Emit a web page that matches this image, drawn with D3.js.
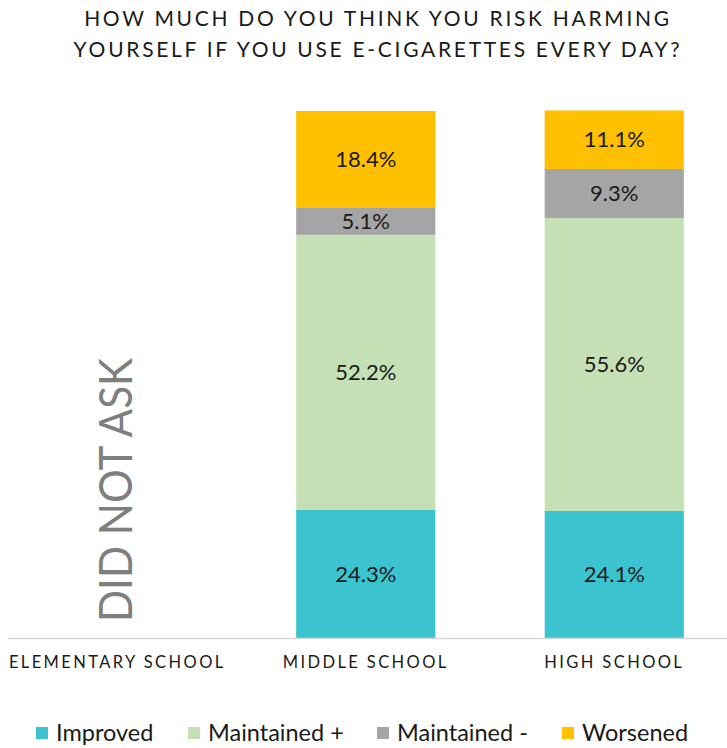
<!DOCTYPE html>
<html>
<head>
<meta charset="utf-8">
<script src="https://cdn.jsdelivr.net/npm/d3@7/dist/d3.min.js"></script>
<style>
  html, body { margin: 0; padding: 0; background: #fff; }
  svg { display: block; font-family: Lato, "Open Sans", sans-serif; }
</style>
</head>
<body>
<svg id="chart" width="727" height="748"></svg>
<script>
// Survey question and categories
const titleLines = ["HOW MUCH DO YOU THINK YOU RISK HARMING", "YOURSELF IF YOU USE E-CIGARETTES EVERY DAY?"];
const schools = ["ELEMENTARY SCHOOL", "MIDDLE SCHOOL", "HIGH SCHOOL"];
const seriesNames = ["Improved", "Maintained +", "Maintained -", "Worsened"];
const seriesColors = ["#3bc4d0", "#c5e0b4", "#a5a5a5", "#ffc000"];

// Percent of students per outcome (elementary school was not asked)
const improved     = [null, 24.3, 24.1];
const maintainedP  = [null, 52.2, 55.6];
const maintainedM  = [null, 5.1, 9.3];
const worsened     = [null, 18.4, 11.1];
const notAskedLabel = "DID NOT ASK";

const seriesValues = [improved, maintainedP, maintainedM, worsened];

const svg = d3.select("#chart");

const x = d3.scaleBand()
  .domain(schools)
  .range([-7, 738.5])
  .paddingInner(0.44)
  .paddingOuter(0.22);

const y = d3.scaleLinear().domain([0, 100]).range([638, 111]);

// Title
svg.append("g")
  .selectAll("text")
  .data(titleLines)
  .join("text")
  .attr("x", 378)
  .attr("y", (d, i) => 26 + i * 31)
  .attr("text-anchor", "middle")
  .attr("font-size", 21)
  .attr("letter-spacing", 2.7)
  .attr("fill", "#1a1a1a")
  .text(d => d);

// Stacked rows
const rows = schools.map((s, i) => {
  const r = { school: s };
  seriesNames.forEach((n, k) => { r[n] = seriesValues[k][i]; });
  return r;
});
const asked = rows.filter(r => r[seriesNames[0]] != null);
const stack = d3.stack().keys(seriesNames)(asked);

const layers = svg.append("g")
  .selectAll("g")
  .data(stack)
  .join("g")
  .attr("fill", (d, i) => seriesColors[i]);

layers.selectAll("rect")
  .data(d => d)
  .join("rect")
  .attr("x", d => x(d.data.school))
  .attr("width", x.bandwidth())
  .attr("y", d => y(d[1]))
  .attr("height", d => y(d[0]) - y(d[1]));

layers.selectAll("text")
  .data(d => d.map(p => ({ p, key: d.key })))
  .join("text")
  .attr("x", d => x(d.p.data.school) + x.bandwidth() / 2)
  .attr("y", d => (y(d.p[0]) + y(d.p[1])) / 2)
  .attr("dy", "0.35em")
  .attr("text-anchor", "middle")
  .attr("font-size", 22)
  .attr("fill", "#1a1a1a")
  .text(d => d3.format(".1f")(d.p.data[d.key]) + "%");

// Category axis
const axis = svg.append("g")
  .attr("transform", `translate(0,${y(0)})`)
  .call(d3.axisBottom(x).tickSize(0).tickPadding(18));
axis.select(".domain").attr("stroke", "#d9d9d9").attr("stroke-width", 1.5)
  .attr("d", `M8,0.5H727`);
axis.selectAll(".tick text")
  .attr("font-family", "Lato, 'Open Sans', sans-serif")
  .attr("font-size", 16.5)
  .attr("letter-spacing", 2.4)
  .attr("fill", "#1a1a1a");

// Not-asked marker for elementary school
const notAsked = rows.filter(r => r[seriesNames[0]] == null);
svg.append("g")
  .selectAll("text")
  .data(notAsked)
  .join("text")
  .attr("transform", d => `translate(${x(d.school) + x.bandwidth() / 2 + 15},490) rotate(-90)`)
  .attr("text-anchor", "middle")
  .attr("font-size", 46)
  .attr("textLength", 264)
  .attr("lengthAdjust", "spacingAndGlyphs")
  .attr("fill", "#7f7f7f")
  .text(notAskedLabel);

// Legend
const legendX = [36, 188, 377, 562];
const legend = svg.append("g")
  .selectAll("g")
  .data(seriesNames)
  .join("g")
  .attr("transform", (d, i) => `translate(${legendX[i]},733)`);
legend.append("rect")
  .attr("x", 0).attr("y", -6).attr("width", 12).attr("height", 12)
  .attr("fill", (d, i) => seriesColors[i]);
legend.append("text")
  .attr("x", 20).attr("dy", "0.35em")
  .attr("font-size", 23.5)
  .attr("fill", "#1a1a1a")
  .text(d => d);
</script>
</body>
</html>
